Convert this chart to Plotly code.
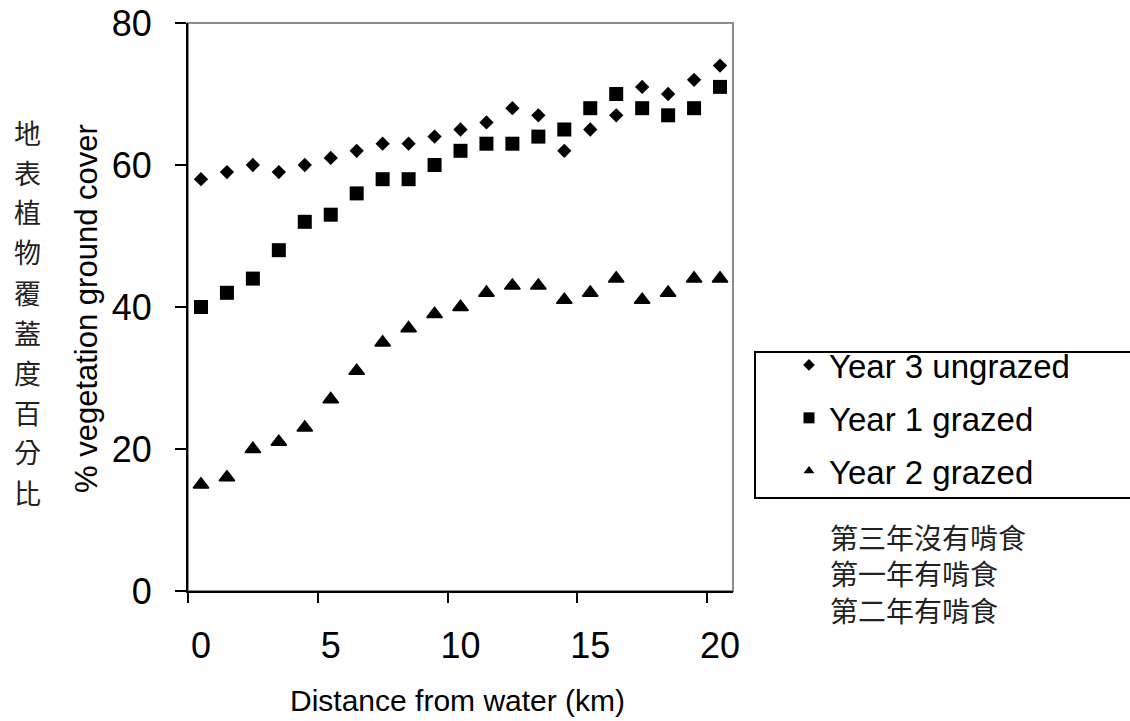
import plotly.graph_objects as go

# ---------------- data ----------------
distance_km = list(range(21))
year3_ungrazed = [58, 59, 60, 59, 60, 61, 62, 63, 63, 64, 65, 66, 68, 67, 62, 65, 67, 71, 70, 72, 74]
year1_grazed = [40, 42, 44, 48, 52, 53, 56, 58, 58, 60, 62, 63, 63, 64, 65, 68, 70, 68, 67, 68, 71]
year2_grazed = [15, 16, 20, 21, 23, 27, 31, 35, 37, 39, 40, 42, 43, 43, 41, 42, 44, 41, 42, 44, 44]

series_names = ["Year 3 ungrazed", "Year 1 grazed", "Year 2 grazed"]
series_names_zh = ["第三年沒有啃食", "第一年有啃食", "第二年有啃食"]
y_title = "% vegetation ground cover"
y_title_zh = "地表植物覆蓋度百分比"
x_title = "Distance from water (km)"
y_ticks = [0, 20, 40, 60, 80]

# ---------------- style ----------------
W, H = 1130, 721
ML, MR, MT, MB = 188, 397, 23, 130
PW, PH = W - ML - MR, H - MT - MB
LAT = "Liberation Sans, Arial, sans-serif"
CJK = "Noto Sans CJK TC, Noto Sans CJK SC, sans-serif"


def px_x(p):
    return (p - ML) / PW


def px_y(p):
    return (H - MB - p) / PH


series = [year3_ungrazed, year1_grazed, year2_grazed]
symbols = ["diamond", "square", "triangle-up"]
plot_sizes = [11, 14, 13.5]
plot_lw = [0, 0, 1.5]
legend_sizes = [9, 11, 9.5]

fig = go.Figure()
cats = [str(d) for d in distance_km]
for vals, name, sym, sz, lw in zip(series, series_names, symbols, plot_sizes, plot_lw):
    fig.add_trace(go.Scatter(
        x=cats, y=vals, mode="markers", name=name, showlegend=False,
        marker=dict(symbol=sym, size=sz, color="black", line=dict(width=lw, color="black")),
    ))
# legend entries (smaller symbols, like the reference legend)
for i, (name, sym, sz) in enumerate(zip(series_names, symbols, legend_sizes)):
    fig.add_trace(go.Scatter(
        x=[None], y=[None], mode="markers", name=name, legendgroup=f"g{i}",
        marker=dict(symbol=sym, size=sz, color="black"),
    ))

annotations = [
    dict(text=y_title, x=px_x(86), y=px_y(309), xref="paper", yref="paper",
         textangle=-90, showarrow=False, xanchor="center", yanchor="middle",
         font=dict(family=LAT, size=31, color="black")),
    dict(text=x_title, x=px_x(457), y=px_y(700), xref="paper", yref="paper",
         showarrow=False, xanchor="center", yanchor="middle",
         font=dict(family=LAT, size=30, color="black")),
    dict(text="<br>".join(series_names_zh), x=px_x(828), y=px_y(573), xref="paper", yref="paper",
         showarrow=False, xanchor="left", yanchor="middle", align="left",
         font=dict(family=CJK, size=28, color="#222222")),
]
# vertical Chinese axis label, one character per line
for i, ch in enumerate(y_title_zh):
    annotations.append(dict(text=ch, x=px_x(27), y=px_y(132 + 40 * i), xref="paper", yref="paper",
                            showarrow=False, xanchor="center", yanchor="middle",
                            font=dict(family=CJK, size=27, color="#222222")))

shapes = [
    # grey plot frame (top and right)
    dict(type="rect", xref="paper", yref="paper", x0=0, x1=1, y0=0, y1=1,
         line=dict(color="#8c8c8c", width=2), layer="below"),
    # legend box
    dict(type="rect", xref="paper", yref="paper", x0=px_x(755), x1=px_x(1140),
         y0=px_y(498), y1=px_y(352), line=dict(color="black", width=2)),
]

fig.update_layout(
    width=W, height=H,
    margin=dict(l=ML, r=MR, t=MT, b=MB, pad=0, autoexpand=False),
    paper_bgcolor="white", plot_bgcolor="white",
    font=dict(family=LAT, color="black"),
    showlegend=True,
    legend=dict(x=px_x(789), y=px_y(337), xanchor="left", yanchor="top",
                font=dict(family=LAT, size=33, color="black"),
                bgcolor="rgba(0,0,0,0)", borderwidth=0, tracegroupgap=7),
    annotations=annotations,
    shapes=shapes,
    xaxis=dict(type="category", range=[-0.5, 20.5], tickson="boundaries", dtick=5, tick0=0,
               tickangle=0, automargin=False,
               ticks="outside", ticklen=10, tickwidth=2, tickcolor="black",
               showline=True, linecolor="black", linewidth=2, showgrid=False, zeroline=False,
               tickfont=dict(family=LAT, size=36, color="black"), ticklabelstandoff=22),
    yaxis=dict(range=[0, 80], tickvals=y_ticks, ticks="outside", ticklen=11, tickwidth=2,
               tickcolor="black", showline=True, linecolor="black", linewidth=2,
               showgrid=False, zeroline=False, automargin=False,
               tickfont=dict(family=LAT, size=36, color="black"), ticklabelstandoff=16),
)

fig.write_html("out.html", config={"displayModeBar": False},
               post_script="document.body.style.margin='0px';document.body.style.overflow='hidden';")
